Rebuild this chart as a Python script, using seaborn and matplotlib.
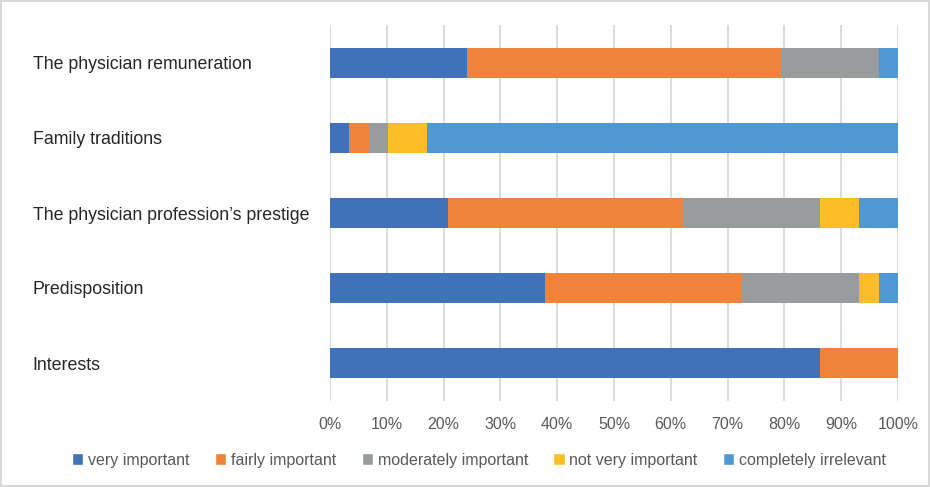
import numpy as np
import pandas as pd
import matplotlib
matplotlib.use("Agg")
import matplotlib.pyplot as plt
import seaborn as sns
from matplotlib.patches import Patch
from matplotlib.ticker import PercentFormatter

# Data (share of respondents, %)
categories = ["The physician remuneration", "Family traditions",
              "The physician profession\u2019s prestige", "Predisposition", "Interests"]
very_important = [24.1, 3.4, 20.7, 37.9, 86.2]
fairly_important = [55.2, 3.4, 41.4, 34.5, 13.8]
moderately_important = [17.2, 3.4, 24.1, 20.7, 0.0]
not_very_important = [0.0, 6.9, 6.9, 3.4, 0.0]
completely_irrelevant = [3.4, 82.8, 6.9, 3.4, 0.0]

series_names = ["very important", "fairly important", "moderately important",
                "not very important", "completely irrelevant"]
colors = ["#4072b9", "#f0833c", "#999c9c", "#fcbd27", "#5098d3"]

sns.set_style("white")
plt.rcParams["font.family"] = ["Liberation Sans", "DejaVu Sans"]

df = pd.DataFrame({
    "category": categories,
    series_names[0]: very_important,
    series_names[1]: fairly_important,
    series_names[2]: moderately_important,
    series_names[3]: not_very_important,
    series_names[4]: completely_irrelevant,
})
cum = df[series_names].cumsum(axis=1)
# normalise so every bar ends at 100 %
cum = cum.div(cum[series_names[-1]], axis=0) * 100

fig = plt.figure(figsize=(9.3, 4.87), dpi=100)
fig.patch.set_edgecolor("#d9d9d9")
fig.patch.set_linewidth(1.5)
ax = fig.add_axes([330 / 930, 86.5 / 487, 568 / 930, 375 / 487])

# stacked bars: draw cumulative totals from the back to the front
for name, col in reversed(list(zip(series_names, colors))):
    sns.barplot(x=cum[name], y=df["category"], orient="h", color=col,
                width=0.4, saturation=1, linewidth=0, ax=ax, zorder=3)

ax.set_xlim(0, 100)
ax.set_xticks(np.arange(0, 101, 10))
ax.xaxis.set_major_formatter(PercentFormatter(decimals=0))
ax.grid(axis="x", color="#d9d9d9", linewidth=1.3, zorder=0)
ax.set_axisbelow(True)
for s in ax.spines.values():
    s.set_visible(False)
ax.set_xlabel("")
ax.set_ylabel("")
ax.tick_params(axis="x", length=0, pad=12, labelsize=11.5, labelcolor="#595959")
ax.tick_params(axis="y", length=0, pad=214, labelsize=12.8, labelcolor="#262626")
for lbl in ax.get_yticklabels():
    lbl.set_horizontalalignment("left")

handles = [Patch(facecolor=c, label=n) for n, c in zip(series_names, colors)]
fig.legend(handles=handles, loc="center", bbox_to_anchor=(479 / 930, 1 - 460 / 487),
           ncol=5, frameon=False, fontsize=11.5, handlelength=0.7, handleheight=0.7,
           handletextpad=0.3, columnspacing=1.6, labelcolor="#595959")

fig.savefig("out.png", dpi=100)
